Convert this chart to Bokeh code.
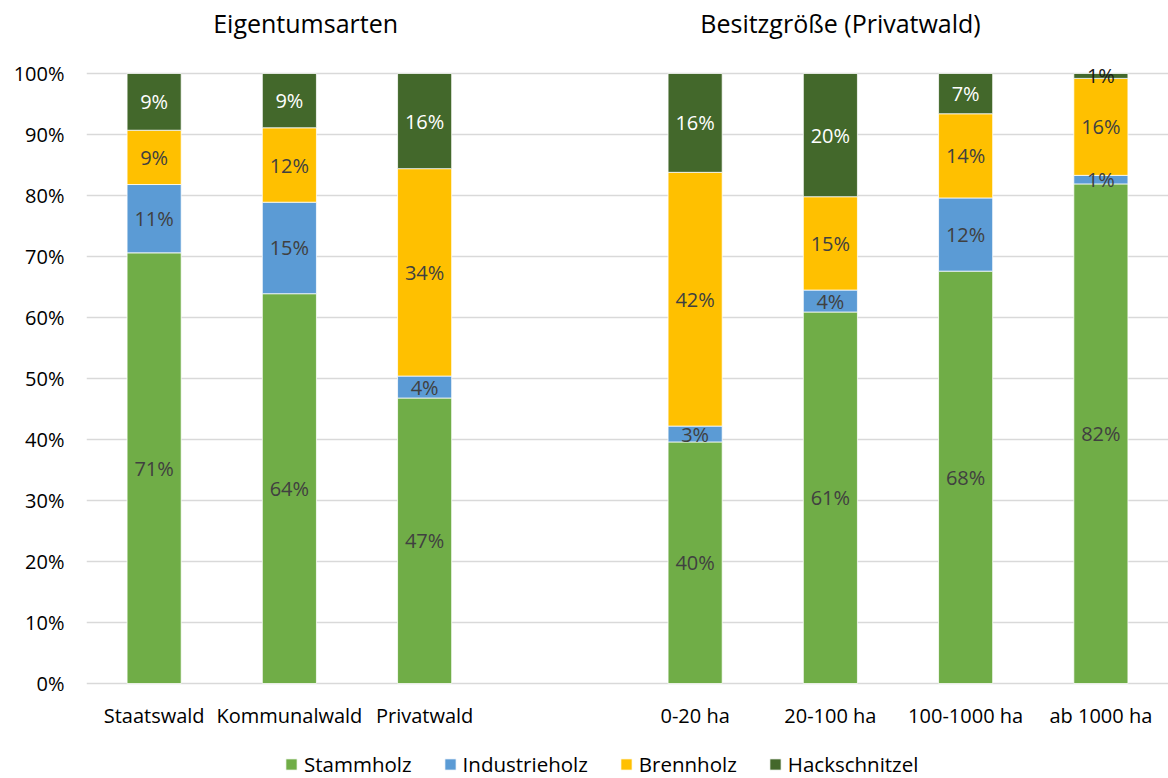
from bokeh.plotting import figure
from bokeh.models import (ColumnDataSource, FactorRange, Range1d, Label, Legend,
                          LegendItem, PrintfTickFormatter, FixedTicker)
from bokeh.core.properties import value
from bokeh.embed import file_html
from bokeh.resources import INLINE

# Categories: ownership types, then private forest size classes
owner_types = ["Staatswald", "Kommunalwald", "Privatwald"]
size_classes = ["0-20 ha", "20-100 ha", "100-1000 ha", "ab 1000 ha"]
categories = owner_types + size_classes

# Share of each assortment (percent)
stammholz = [70.6, 63.9, 46.8, 39.6, 60.9, 67.6, 81.9]
industrieholz = [11.2, 15.0, 3.6, 2.6, 3.6, 12.0, 1.4]
brennholz = [8.9, 12.2, 34.0, 41.6, 15.3, 13.8, 15.9]
hackschnitzel = [9.3, 8.9, 15.6, 16.2, 20.2, 6.6, 0.8]

series_names = ["Stammholz", "Industrieholz", "Brennholz", "Hackschnitzel"]
series_colors = ["#70AD47", "#5B9BD5", "#FFC000", "#43682B"]
label_colors = ["#404040", "#404040", "#404040", "#FFFFFF"]

group_titles = ["Eigentumsarten", "Besitzgröße (Privatwald)"]

FONT = "Open Sans"

# Vertical extent: the frame spans the whole canvas height so headings,
# category names and legend sit inside it; the value scale runs 0..100.
PX_PER_PCT = 6.1
Y_LO = -(778 - 683) / PX_PER_PCT
Y_HI = 100 + 73 / PX_PER_PCT

# An empty slot separates the two groups on the category scale
factors = owner_types + [" "] + size_classes

src = ColumnDataSource(dict(cat=categories, Stammholz=stammholz,
                            Industrieholz=industrieholz, Brennholz=brennholz,
                            Hackschnitzel=hackschnitzel))

p = figure(width=1168, height=778, output_backend="svg", toolbar_location=None,
           x_range=FactorRange(*factors, range_padding=0, factor_padding=0),
           y_range=Range1d(Y_LO, Y_HI), x_axis_location=None,
           min_border_left=86, min_border_right=0, min_border_top=0,
           min_border_bottom=0)
p.outline_line_color = None
p.background_fill_color = "white"
p.border_fill_color = "white"

renderers = p.vbar_stack(series_names, x="cat", width=0.4, color=series_colors,
                         line_color="white", line_width=0.75, source=src)

# Segment labels, centred in each stacked segment
lx, ly, lt, lc = [], [], [], []
columns = [stammholz, industrieholz, brennholz, hackschnitzel]
for i, cat in enumerate(categories):
    base = 0.0
    for s, col in enumerate(columns):
        v = col[i]
        lx.append(cat)
        ly.append(base + v / 2)
        lt.append(f"{round(v):d}%")
        c = label_colors[s]
        if s == 3 and v < 2:
            c = "#1A1A1A"
        lc.append(c)
        base += v
lab_src = ColumnDataSource(dict(x=lx, y=ly, text=lt, color=lc))
p.text(x="x", y="y", text="text", source=lab_src, text_color="color",
       text_align="center", text_baseline="middle",
       text_font=value(FONT), text_font_size="20px")

# Category names under the bars
cat_src = ColumnDataSource(dict(x=categories, y=[-5.3] * len(categories),
                                text=categories))
p.text(x="x", y="y", text="text", source=cat_src, text_color="#000000",
       text_align="center", text_baseline="middle",
       text_font=value(FONT), text_font_size="20px")

# Group headings above the plot area
for xpos, t in zip([1.62, 5.575], group_titles):
    p.add_layout(Label(x=xpos, y=108.2, text=t, text_align="center",
                       text_baseline="middle", text_font=FONT,
                       text_font_size="25px", text_color="#000000"))

# Value axis
p.yaxis.ticker = FixedTicker(ticks=list(range(0, 101, 10)))
p.yaxis.formatter = PrintfTickFormatter(format="%d%%")
p.yaxis.axis_line_color = None
p.yaxis.major_tick_line_color = None
p.yaxis.minor_tick_line_color = None
p.yaxis.major_label_text_font = FONT
p.yaxis.major_label_text_font_size = "20px"
p.yaxis.major_label_text_color = "#000000"
p.yaxis.major_label_standoff = 16

p.xgrid.grid_line_color = None
p.ygrid.grid_line_color = "#D9D9D9"
p.ygrid.grid_line_width = 1.6

legend = Legend(items=[LegendItem(label=n, renderers=[r])
                       for n, r in zip(series_names, renderers)],
                orientation="horizontal", location=(198, 0),
                glyph_width=14, glyph_height=14, label_standoff=6, spacing=31,
                label_text_font=FONT, label_text_font_size="20.5px",
                label_text_color="#000000", border_line_color=None,
                background_fill_alpha=0, padding=0, margin=0)
p.add_layout(legend)

open("out.html", "w").write(file_html(p, INLINE))
